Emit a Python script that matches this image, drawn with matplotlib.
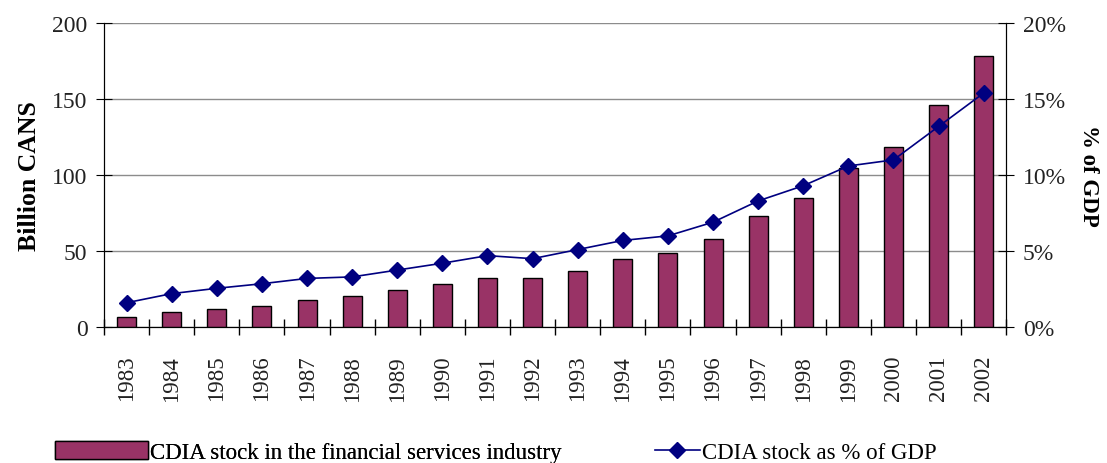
import numpy as np
import matplotlib.pyplot as plt
from matplotlib.ticker import FuncFormatter

years = [str(y) for y in range(1983, 2003)]
stock = [6.6, 9.9, 12, 14, 18, 20.2, 24.5, 28.3, 32, 32,
         37, 44.7, 49, 57.9, 73.2, 84.9, 104.6, 118.6, 146, 178.5]
pct_gdp = [1.6, 2.2, 2.55, 2.85, 3.2, 3.3, 3.75, 4.2, 4.7, 4.5,
           5.1, 5.7, 6.0, 6.9, 8.3, 9.3, 10.6, 11.0, 13.2, 15.4]

plt.rcParams['font.family'] = ['Liberation Serif', 'DejaVu Serif']

fig = plt.figure(figsize=(11.07, 4.64), dpi=100)
ax = fig.add_axes([0.094, 0.293, 0.815, 0.655])
x = np.arange(len(years))

bars = ax.bar(x, stock, width=0.42, color='#993366', edgecolor='black',
              linewidth=1.0, zorder=3,
              label='CDIA stock in the financial services industry')
ax.set_ylim(0, 200)
ax.set_yticks(range(0, 201, 50))
ax.set_xlim(-0.5, len(years) - 0.5)
ax.grid(axis='y', color='#8c8c8c', linewidth=1.0, zorder=0)
ax.set_xticks(x)
ax.set_xticklabels(years, rotation=90, fontsize=16.5, color='#222222')
ax.tick_params(axis='x', which='major', length=0, pad=20)
ax.set_xticks(np.arange(-0.5, len(years), 1), minor=True)
ax.tick_params(axis='x', which='minor', length=12, direction='inout', width=1.0)
ax.tick_params(axis='y', labelsize=17, labelcolor='#222222', length=12,
               direction='inout', pad=6)
ax.set_ylabel('Billion CANS', fontsize=18.5, fontweight='bold', labelpad=8)
ax.spines['top'].set_visible(False)

ax2 = ax.twinx()
line, = ax2.plot(x, pct_gdp, color='#000080', marker='D', markersize=8,
                 linewidth=1.2, zorder=4, label='CDIA stock as % of GDP')
ax2.set_ylim(0, 20)
ax2.set_yticks(range(0, 21, 5))
ax2.yaxis.set_major_formatter(FuncFormatter(lambda v, p: f'{v:.0f}%'))
ax2.tick_params(axis='y', labelsize=17, labelcolor='#222222', length=12,
                direction='inout', pad=6)
ax2.set_ylabel('% of GDP', fontsize=16.5, fontweight='bold', rotation=270,
               labelpad=24)
ax2.spines['top'].set_visible(False)

leg1 = fig.legend(handles=[bars], loc='lower left',
                  bbox_to_anchor=(55 / 1107, 0.0), borderaxespad=0, borderpad=0,
                  frameon=False, fontsize=16.5, handlelength=4.05,
                  handleheight=0.85, handletextpad=0.1)
fig.add_artist(leg1)
fig.legend(handles=[line], loc='lower left',
           bbox_to_anchor=(655 / 1107, 0.0), borderaxespad=0, borderpad=0,
           frameon=False, fontsize=16.5, handlelength=1.95, handletextpad=0.1)

fig.savefig('out.png', dpi=100)
